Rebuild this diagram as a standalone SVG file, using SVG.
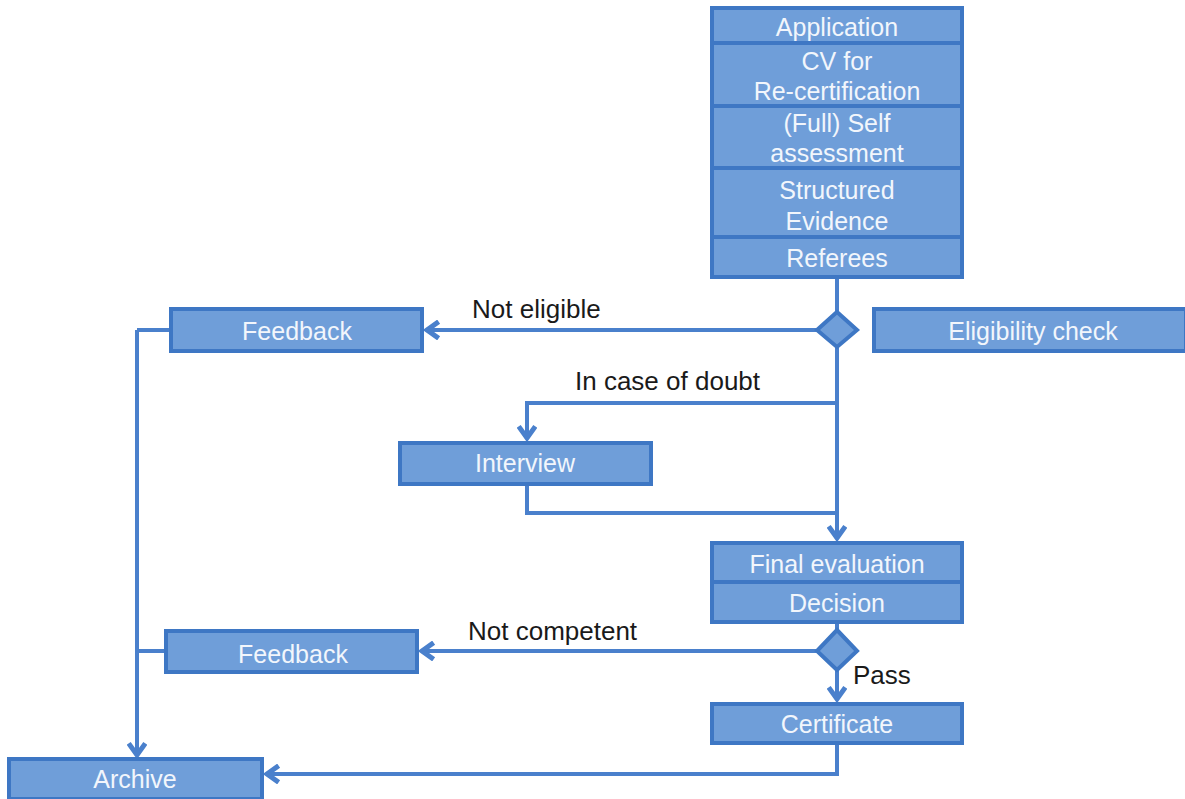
<svg xmlns="http://www.w3.org/2000/svg" width="1185" height="799" viewBox="0 0 1185 799">
<style>
.box{fill:#6f9ed9;stroke:#3e77c4;stroke-width:4}
.div{stroke:#3e77c4;stroke-width:4}
.wt{font-family:"Liberation Sans",Arial,sans-serif;font-size:25px;fill:#f2f6fc;text-anchor:middle}
.bt{font-family:"Liberation Sans",Arial,sans-serif;font-size:26px;fill:#1a1a1a}
.ln{fill:none;stroke:#4a80cc;stroke-width:4}
.dia{fill:#6f9ed9;stroke:#3e77c4;stroke-width:4}
</style>
<defs>
<marker id="arr" viewBox="0 0 12 12" refX="9" refY="6" markerWidth="5" markerHeight="5" orient="auto" markerUnits="strokeWidth">
<polyline points="2,1 9,6 2,11" fill="none" stroke="#4a80cc" stroke-width="3"/>
</marker>
</defs>
<rect width="1185" height="799" fill="#ffffff"/>
<g id="connectors">
<line class="ln" x1="837" y1="277" x2="837" y2="311"/>
<line class="ln" x1="837" y1="347" x2="837" y2="538" marker-end="url(#arr)"/>
<line class="ln" x1="817" y1="330" x2="427" y2="330" marker-end="url(#arr)"/>
<line class="ln" x1="170" y1="330" x2="137" y2="330"/>
<line class="ln" x1="137" y1="330" x2="137" y2="755" marker-end="url(#arr)"/>
<polyline class="ln" points="837,403 527,403 527,438" marker-end="url(#arr)"/>
<polyline class="ln" points="527,485 527,513 837,513"/>
<line class="ln" x1="837" y1="622" x2="837" y2="630"/>
<line class="ln" x1="837" y1="670" x2="837" y2="699" marker-end="url(#arr)"/>
<line class="ln" x1="817" y1="651" x2="422" y2="651" marker-end="url(#arr)"/>
<line class="ln" x1="165" y1="651" x2="137" y2="651"/>
<polyline class="ln" points="837,743 837,774 267,774" marker-end="url(#arr)"/>
</g>
<g id="label-not-eligible"><text class="bt" x="472" y="318">Not eligible</text></g>
<g id="label-doubt"><text class="bt" x="575" y="390">In case of doubt</text></g>
<g id="label-not-competent"><text class="bt" x="468" y="640">Not competent</text></g>
<g id="label-pass"><text class="bt" x="853" y="684">Pass</text></g>
<g id="application">
<rect class="box" x="712" y="8" width="250" height="269"/>
<line class="div" x1="712" y1="43" x2="962" y2="43"/>
<line class="div" x1="712" y1="106" x2="962" y2="106"/>
<line class="div" x1="712" y1="168" x2="962" y2="168"/>
<line class="div" x1="712" y1="237" x2="962" y2="237"/>
<text class="wt" x="837" y="36">Application</text>
<text class="wt" x="837" y="70">CV for</text>
<text class="wt" x="837" y="100">Re-certification</text>
<text class="wt" x="837" y="132">(Full) Self</text>
<text class="wt" x="837" y="162">assessment</text>
<text class="wt" x="837" y="199">Structured</text>
<text class="wt" x="837" y="230">Evidence</text>
<text class="wt" x="837" y="267">Referees</text>
</g>
<g id="decision-eligibility"><polygon class="dia" points="837,312 857,330 837,347 817,330"/></g>
<g id="eligibility-check">
<rect class="box" x="874" y="309" width="312" height="42"/>
<text class="wt" x="1033" y="340">Eligibility check</text>
</g>
<g id="feedback-1">
<rect class="box" x="171" y="309" width="251" height="42"/>
<text class="wt" x="297" y="340">Feedback</text>
</g>
<g id="interview">
<rect class="box" x="400" y="443" width="251" height="41"/>
<text class="wt" x="525" y="472">Interview</text>
</g>
<g id="final-evaluation">
<rect class="box" x="712" y="543" width="250" height="79"/>
<line class="div" x1="712" y1="582" x2="962" y2="582"/>
<text class="wt" x="837" y="573">Final evaluation</text>
<text class="wt" x="837" y="612">Decision</text>
</g>
<g id="decision-pass"><polygon class="dia" points="837,630 857,651 837,670 817,651"/></g>
<g id="feedback-2">
<rect class="box" x="166" y="631" width="251" height="41"/>
<text class="wt" x="293" y="663">Feedback</text>
</g>
<g id="certificate">
<rect class="box" x="712" y="704" width="250" height="39"/>
<text class="wt" x="837" y="733">Certificate</text>
</g>
<g id="archive">
<rect class="box" x="9" y="759" width="253" height="40"/>
<text class="wt" x="135" y="788">Archive</text>
</g>
</svg>
